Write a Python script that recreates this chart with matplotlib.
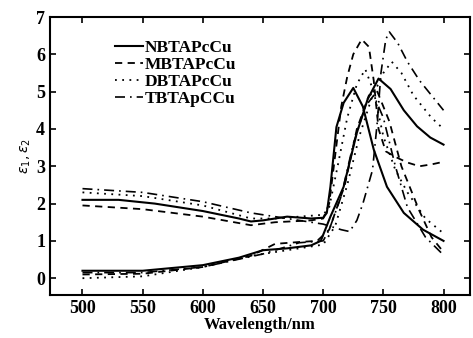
import matplotlib
matplotlib.use("Agg")
import matplotlib.pyplot as plt
import numpy as np

# NBTAPcCu (solid)
nb1_x = [500, 530, 560, 600, 630, 640, 650, 670, 690, 700, 703, 706, 711, 717, 725, 733, 742, 753, 767, 783, 800]
nb1_y = [2.1, 2.1, 2.0, 1.8, 1.6, 1.52, 1.55, 1.65, 1.6, 1.62, 1.75, 2.45, 4.05, 4.7, 5.1, 4.6, 3.45, 2.45, 1.75, 1.3, 1.0]
nb2_x = [500, 550, 600, 630, 650, 670, 690, 698, 706, 717, 728, 737, 746, 756, 767, 778, 789, 800]
nb2_y = [0.2, 0.2, 0.35, 0.55, 0.75, 0.8, 0.88, 1.0, 1.65, 2.45, 3.9, 4.8, 5.35, 5.07, 4.5, 4.07, 3.77, 3.58]

# MBTAPcCu (dashed)
mb1_x = [500, 550, 600, 640, 660, 690, 700, 705, 710, 715, 720, 725, 732, 738, 742, 746, 752, 760, 770, 780, 790, 800]
mb1_y = [1.95, 1.85, 1.65, 1.42, 1.5, 1.55, 1.6, 2.0, 3.3, 4.6, 5.4, 6.0, 6.4, 6.2, 5.3, 4.0, 3.4, 3.25, 3.1, 3.0, 3.05, 3.12]
mb2_x = [500, 550, 600, 640, 660, 680, 695, 705, 718, 728, 738, 745, 755, 765, 780, 790, 800]
mb2_y = [0.1, 0.12, 0.3, 0.6, 0.92, 0.97, 1.0, 1.3, 2.5, 4.0, 4.9, 5.0, 4.2, 3.0, 1.8, 1.1, 0.7]

# DBTAPcCu (dotted)
db1_x = [500, 550, 600, 640, 660, 700, 705, 712, 720, 728, 735, 742, 750, 760, 770, 785, 800]
db1_y = [2.3, 2.2, 1.95, 1.6, 1.6, 1.7, 1.9, 3.0, 4.3, 5.2, 5.6, 5.0, 3.8, 2.9, 2.3, 1.6, 1.2]
db2_x = [500, 550, 600, 640, 670, 700, 710, 720, 730, 740, 750, 757, 765, 775, 790, 800]
db2_y = [0.0, 0.05, 0.3, 0.6, 0.75, 0.9, 1.4, 2.5, 3.8, 4.8, 5.5, 5.8, 5.5, 4.9, 4.3, 4.0]

# TBTApCCu (dash-dot)
tb1_x = [500, 550, 600, 640, 670, 700, 715, 722, 728, 733, 741, 745, 748, 752, 755, 762, 770, 780, 790, 800]
tb1_y = [2.4, 2.3, 2.05, 1.75, 1.6, 1.45, 1.3, 1.25, 1.55, 2.0, 2.9, 4.2, 5.5, 6.4, 6.6, 6.3, 5.8, 5.3, 4.9, 4.5]
tb2_x = [500, 550, 600, 650, 680, 700, 705, 715, 725, 735, 742, 750, 760, 770, 785, 800]
tb2_y = [0.15, 0.15, 0.3, 0.65, 0.95, 1.0, 1.3, 2.2, 3.6, 4.6, 4.9, 4.3, 3.0, 1.9, 1.1, 0.62]

labels = ["NBTAPcCu", "MBTAPcCu", "DBTAPcCu", "TBTApCCu"]
xticks = [500, 550, 600, 650, 700, 750, 800]
yticks = [0, 1, 2, 3, 4, 5, 6, 7]

plt.rcParams['font.family'] = ['Liberation Serif', 'DejaVu Serif']
fig = plt.figure(figsize=(4.73, 3.38), dpi=100)
ax = fig.add_axes([50 / 473, 43 / 338, 420 / 473, 278 / 338])

styles = [dict(ls='-', lw=1.5), dict(ls=(0, (4, 3)), lw=1.3),
          dict(ls=(0, (1, 3)), lw=1.3), dict(ls=(0, (6, 3, 1, 3)), lw=1.2)]
pairs = [(nb1_x, nb1_y, nb2_x, nb2_y), (mb1_x, mb1_y, mb2_x, mb2_y),
         (db1_x, db1_y, db2_x, db2_y), (tb1_x, tb1_y, tb2_x, tb2_y)]
for (x1, y1, x2, y2), st, lab in zip(pairs, styles, labels):
    ax.plot(x1, y1, color='black', label=lab, **st)
    ax.plot(x2, y2, color='black', **st)

ax.set_xlim(473, 822)
ax.set_ylim(-0.45, 7)
ax.set_xticks(xticks)
ax.set_yticks(yticks)
ax.tick_params(direction='in', top=True, right=True, labeltop=False, labelright=False,
               length=4, width=1.2, labelsize=13)
for lbl in ax.get_xticklabels() + ax.get_yticklabels():
    lbl.set_fontweight('bold')
for s in ax.spines.values():
    s.set_linewidth(1.5)

ax.set_xlabel('Wavelength/nm', fontsize=12, fontweight='bold', labelpad=0)
ax.set_ylabel(r'$\varepsilon_1,\varepsilon_2$', fontsize=10, labelpad=2)

leg = ax.legend(loc='upper left', bbox_to_anchor=(0.135, 0.95), frameon=False,
                prop={'family': 'Liberation Serif', 'weight': 'bold', 'size': 12.5},
                handlelength=1.6, handletextpad=0.1, labelspacing=0.05, borderpad=0)

fig.savefig('out.png', dpi=100)
